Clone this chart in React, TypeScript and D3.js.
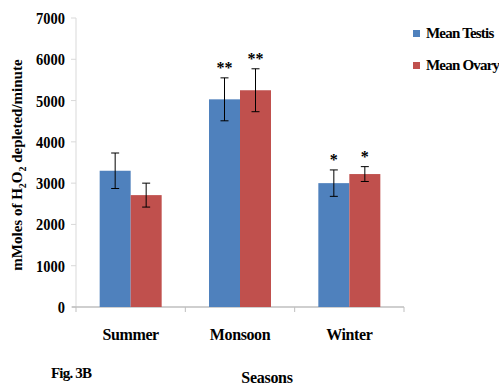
import React from 'react';
import * as d3 from 'd3';

// chart data
const seasons = ['Summer', 'Monsoon', 'Winter'];
const seriesNames = ['Mean Testis', 'Mean Ovary'];
const testisMean = [3300, 5030, 3000];
const testisErr = [430, 520, 320];
const ovaryMean = [2710, 5250, 3220];
const ovaryErr = [290, 520, 180];
const testisMarks = ['', '**', '*'];
const ovaryMarks = ['', '**', '*'];
const yTicks = [0, 1000, 2000, 3000, 4000, 5000, 6000, 7000];

const colors = ['#4f81bd', '#c0504d'];
const font = '"Liberation Serif", "Times New Roman", serif';

const App = () => {
  const width = 499;
  const height = 387;
  const plot = { left: 76, right: 404, top: 18, bottom: 307 };

  const x = d3.scaleBand<string>()
    .domain(seasons)
    .range([plot.left, plot.right]);
  const barW = 31;
  const y = d3.scaleLinear().domain([0, 7000]).range([plot.bottom, plot.top]);

  const series = [
    { name: seriesNames[0], mean: testisMean, err: testisErr, marks: testisMarks },
    { name: seriesNames[1], mean: ovaryMean, err: ovaryErr, marks: ovaryMarks },
  ];

  const boundaries = [...seasons.map(s => x(s)!), plot.right];

  return (
    <svg width={width} height={height} style={{ position: 'absolute', left: 0, top: 0, background: '#fff' }}
      fontFamily={font} fontWeight="bold">
      {/* axes */}
      <line x1={plot.left} x2={plot.left} y1={plot.top} y2={plot.bottom} stroke="#d9d9d9" />
      {yTicks.map(t => (
        <g key={t}>
          <line x1={plot.left - 5} x2={plot.left} y1={y(t)} y2={y(t)} stroke="#d9d9d9" />
          <text x={65} y={y(t)} dy="0.35em" textAnchor="end" fontSize={17}
            transform={`translate(65 0) scale(0.85 1) translate(-65 0)`}>{t}</text>
        </g>
      ))}
      <line x1={plot.left - 4} x2={plot.right} y1={plot.bottom} y2={plot.bottom} stroke="#bfbfbf" strokeWidth={1.5} />
      {boundaries.map((b, i) => (
        <line key={i} x1={b} x2={b} y1={plot.bottom} y2={plot.bottom + 5} stroke="#bfbfbf" />
      ))}

      {/* bars */}
      {seasons.map((s, i) => {
        const cx = x(s)! + x.bandwidth() / 2;
        return series.map((ser, j) => {
          const bx = cx - barW + j * barW;
          const v = ser.mean[i];
          const e = ser.err[i];
          const mx = bx + barW / 2;
          return (
            <g key={s + j}>
              <rect x={bx} y={y(v)} width={barW} height={y(0) - y(v)} fill={colors[j]} />
              <line x1={mx} x2={mx} y1={y(v + e)} y2={y(v - e)} stroke="#000" />
              <line x1={mx - 4} x2={mx + 4} y1={y(v + e)} y2={y(v + e)} stroke="#000" />
              <line x1={mx - 4} x2={mx + 4} y1={y(v - e)} y2={y(v - e)} stroke="#000" />
              {ser.marks[i] && (
                <text x={mx} y={y(v + e) - 5} textAnchor="middle" fontSize={16}>{ser.marks[i]}</text>
              )}
            </g>
          );
        });
      })}

      {/* category labels */}
      {seasons.map(s => (
        <text key={s} x={x(s)! + x.bandwidth() / 2} y={340} textAnchor="middle" fontSize={16}
          letterSpacing={-0.4}>{s}</text>
      ))}

      {/* y label */}
      <text transform="translate(22 165) rotate(-90)" textAnchor="middle" fontSize={15}>
        mMoles of H<tspan fontSize={10} dy={4}>2</tspan><tspan dy={-4}>O</tspan>
        <tspan fontSize={10} dy={4}>2</tspan><tspan dy={-4}> depleted/minute</tspan>
      </text>

      {/* legend */}
      {series.map((ser, j) => (
        <g key={ser.name} transform={`translate(413 ${30 + j * 32})`}>
          <rect width={7} height={7} fill={colors[j]} />
          <text x={13} y={8} fontSize={15} letterSpacing={-0.8}>{ser.name}</text>
        </g>
      ))}

      <text x={51} y={378} fontSize={15} letterSpacing={-0.8}>Fig. 3B</text>
      <text x={267} y={383} textAnchor="middle" fontSize={16} letterSpacing={-0.3}>Seasons</text>
    </svg>
  );
};

export default App;
